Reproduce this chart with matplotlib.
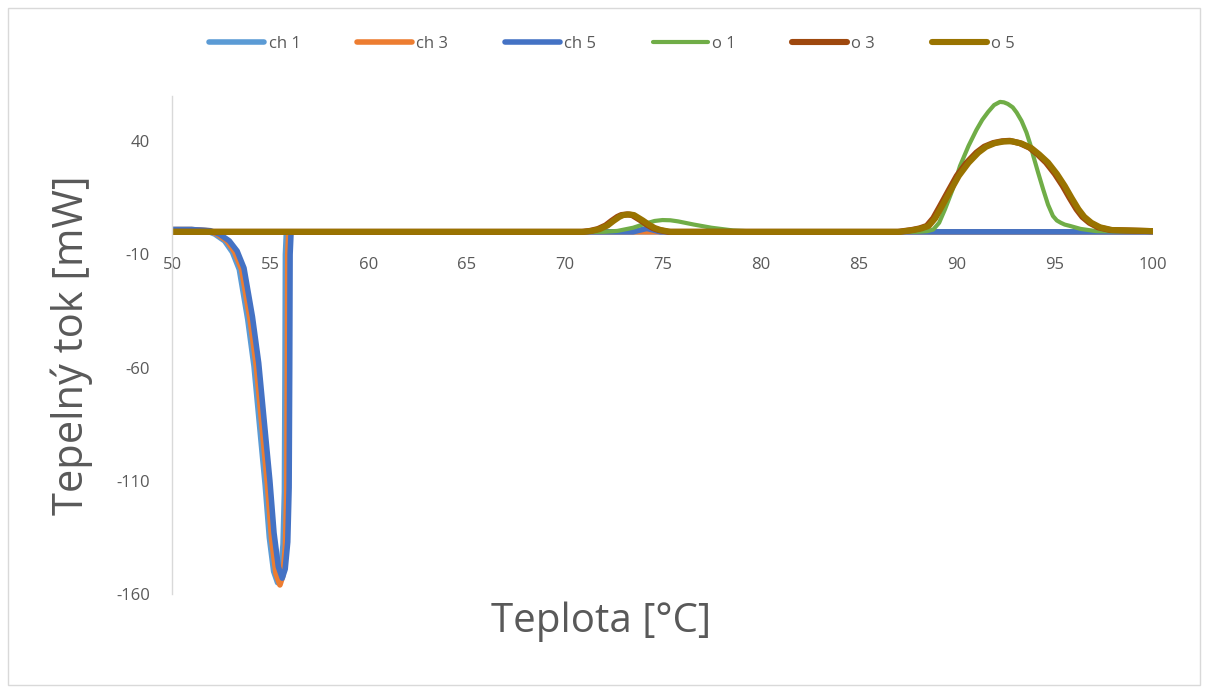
import matplotlib.pyplot as plt
from matplotlib.patches import Rectangle

plt.rcParams['font.family'] = ['Open Sans', 'DejaVu Sans']
plt.rcParams['axes.unicode_minus'] = False

# series (temperature in deg C, heat flow in mW)
ch1_x = [50, 51, 51.75, 52.18, 52.68, 53.08, 53.43, 53.86, 54.18, 54.53, 54.75, 54.96, 55.18,
         55.38, 55.53, 55.66, 55.73, 55.76, 55.78, 55.83, 57, 100]
ch1_y = [1, 1, 0.5, -1, -4, -9, -16.6, -38.7, -59.4, -91.8, -112, -135, -150,
         -155, -151, -138, -115, -60, -10, 0, 0, 0]

ch3_x = [50, 51, 51.85, 52.3, 52.8, 53.2, 53.55, 53.98, 54.3, 54.65, 54.87, 55.08, 55.3,
         55.5, 55.65, 55.78, 55.85, 55.88, 55.9, 55.95, 57, 100]
ch3_y = [1, 1, 0.5, -1, -4, -9, -16.6, -38.7, -59.4, -91.8, -112, -136, -151,
         -156, -152, -139, -115, -60, -10, 0, 0, 0]

ch5_x = [50, 51, 51.95, 52.42, 52.92, 53.32, 53.67, 54.1, 54.42, 54.77, 54.99, 55.2, 55.42,
         55.62, 55.77, 55.9, 55.97, 56.0, 56.02, 56.07, 57, 73.5, 74.2, 74.9, 100]
ch5_y = [1, 1, 0.5, -1, -4, -8.5, -16, -37.5, -58, -90, -110, -133, -148,
         -153, -149, -137, -113, -60, -10, 0, 0, 0, 1.5, 0, 0]

o1_x = [50, 72.0, 72.7, 73.5, 74.2, 74.6, 75.0, 75.4, 75.8, 76.6, 77.5, 78.6, 80.0, 88.0,
        88.5, 88.8, 89.1, 89.4, 89.8, 90.16, 90.6, 91.0, 91.3, 91.6, 91.9, 92.2, 92.4, 92.6,
        92.85, 93.05, 93.3, 93.55, 93.75, 93.9, 94.15, 94.4, 94.65, 94.9, 95.1, 95.3, 95.5,
        95.77, 96.3, 97.1, 100]
o1_y = [0, 0, 0.4, 1.8, 3.8, 4.8, 5.2, 5.1, 4.6, 3.2, 1.8, 0.6, 0, 0,
        0.3, 1, 4, 10, 19, 29, 38, 45, 49.5, 53, 56, 57.4, 57.2, 56.5,
        55, 52.7, 49, 43.9, 38.5, 33.5, 26, 18.8, 12, 7, 5, 4, 3.2,
        2.6, 1.3, 0.3, 0]

o3_x = [50, 70.9, 71.3, 71.7, 72.1, 72.4, 72.7, 72.9, 73.2, 73.45, 73.6, 73.9, 74.2, 74.5,
        74.8, 75.3, 87.0, 87.7, 88.1, 88.47, 88.8, 89.15, 89.6, 90.0, 90.5, 91.0, 91.4, 91.85,
        92.3, 92.7, 93.2, 93.7, 94.1, 94.55, 95.0, 95.4, 95.75, 96.1, 96.4, 96.76, 97.2, 97.8,
        100]
o3_y = [0, 0, 0.4, 1.2, 2.8, 4.8, 6.6, 7.4, 7.7, 7.4, 6.6, 5.0, 3.2, 1.7,
        0.8, 0, 0, 0.8, 1.5, 2.6, 6, 11.4, 18.5, 24.7, 30.5, 35, 37.6, 39.2,
        40.0, 40.2, 39.2, 37.2, 34.4, 30.6, 25.6, 20.3, 15, 10, 6.6, 4, 2, 0.8,
        0.3]

o5_x = [50, 71.0, 71.4, 71.8, 72.2, 72.5, 72.8, 73.0, 73.3, 73.55, 73.7, 74.0, 74.3, 74.6,
        74.9, 75.4, 87.1, 87.8, 88.2, 88.57, 88.9, 89.25, 89.7, 90.1, 90.6, 91.1, 91.5, 91.95,
        92.4, 92.8, 93.3, 93.8, 94.2, 94.65, 95.1, 95.5, 95.85, 96.2, 96.5, 96.86, 97.3, 97.9,
        100]
o5_y = [0, 0, 0.4, 1.2, 2.8, 4.8, 6.6, 7.4, 7.7, 7.4, 6.6, 5.0, 3.2, 1.7,
        0.8, 0, 0, 0.8, 1.5, 2.6, 6, 11.4, 18.5, 24.7, 30.5, 35, 37.6, 39.2,
        39.9, 40.0, 39.0, 37.0, 34.2, 30.6, 25.6, 20.3, 15, 10, 6.6, 4, 2, 0.8,
        0.3]

x_ticks = [50, 55, 60, 65, 70, 75, 80, 85, 90, 95, 100]
y_ticks = [-160, -110, -60, -10, 40]

gray = '#595959'

fig = plt.figure(figsize=(12.05, 6.88), dpi=100)
ax = fig.add_axes([172 / 1205, 94 / 688, 981 / 1205, 498 / 688])

line_kw = dict(solid_joinstyle='round', solid_capstyle='round')
ax.plot(ch1_x, ch1_y, color='#5B9BD5', linewidth=4, label='ch 1', **line_kw)
ax.plot(ch3_x, ch3_y, color='#ED7D31', linewidth=4, label='ch 3', **line_kw)
ax.plot(ch5_x, ch5_y, color='#4472C4', linewidth=4, label='ch 5', **line_kw)
ax.plot(o1_x, o1_y, color='#70AD47', linewidth=3, label='o 1', **line_kw)
ax.plot(o3_x, o3_y, color='#9E480E', linewidth=4.4, label='o 3', **line_kw)
ax.plot(o5_x, o5_y, color='#997300', linewidth=4.4, label='o 5', **line_kw)

ax.set_xlim(50, 100)
ax.set_ylim(-160, 60)
ax.set_xticks(x_ticks)
ax.set_yticks(y_ticks)
ax.tick_params(length=0, labelsize=12, labelcolor=gray)
ax.tick_params(axis='y', pad=16)
ax.tick_params(axis='x', pad=2)

# x axis crosses at -10, its line is hidden
ax.spines['bottom'].set_position(('data', -10))
ax.spines['bottom'].set_visible(False)
ax.spines['top'].set_visible(False)
ax.spines['right'].set_visible(False)
ax.spines['left'].set_color('#D9D9D9')
ax.spines['left'].set_linewidth(1)

ax.set_ylabel('Tepelný tok [mW]', fontsize=30, color=gray)
ax.yaxis.set_label_coords(-0.081, 0.5)
fig.text(601 / 1205, 1 - 622 / 688, 'Teplota [°C]', fontsize=29, color=gray,
         ha='center', va='center')

fig.legend(loc='center', bbox_to_anchor=(612 / 1205, 1 - 44 / 688), ncol=6, frameon=False,
           fontsize=12, labelcolor=gray, handlelength=3.3, handletextpad=0.25,
           columnspacing=3.4)

fig.patches.append(Rectangle((8 / 1205, 3 / 688), 1192 / 1205, 677 / 688, transform=fig.transFigure,
                             fill=False, edgecolor='#D9D9D9', linewidth=1))

fig.savefig('out.png', dpi=100)
